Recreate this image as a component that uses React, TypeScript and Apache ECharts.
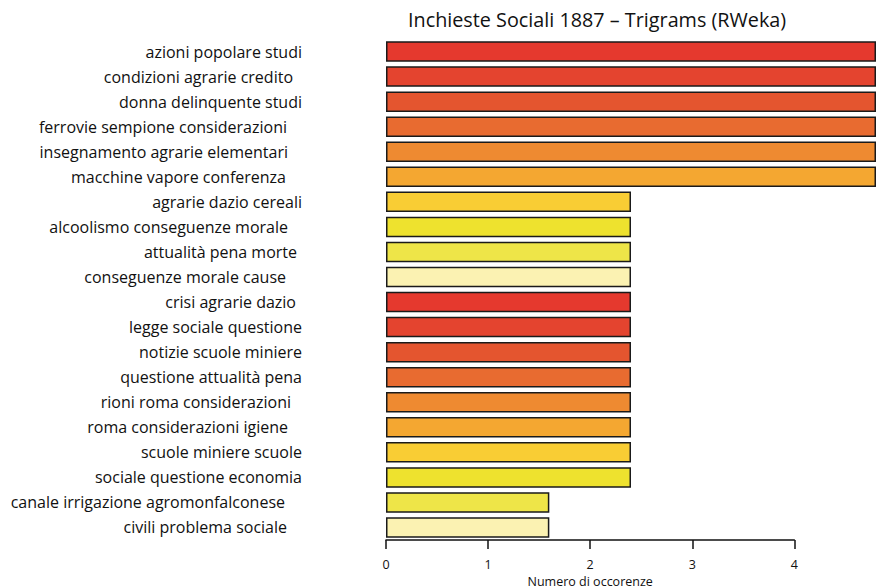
import React, { useEffect, useRef } from "react";
import * as echarts from "echarts";

const categories = [
  "azioni popolare studi",
  "condizioni agrarie credito",
  "donna delinquente studi",
  "ferrovie sempione considerazioni",
  "insegnamento agrarie elementari",
  "macchine vapore conferenza",
  "agrarie dazio cereali",
  "alcoolismo conseguenze morale",
  "attualità pena morte",
  "conseguenze morale cause",
  "crisi agrarie dazio",
  "legge sociale questione",
  "notizie scuole miniere",
  "questione attualità pena",
  "rioni roma considerazioni",
  "roma considerazioni igiene",
  "scuole miniere scuole",
  "sociale questione economia",
  "canale irrigazione agromonfalconese",
  "civili problema sociale",
];

const values = [4.8, 4.8, 4.8, 4.8, 4.8, 4.8, 2.4, 2.4, 2.4, 2.4, 2.4, 2.4, 2.4, 2.4, 2.4, 2.4, 2.4, 2.4, 1.6, 1.6];

const palette = [
  "#e5392e",
  "#e4442f",
  "#e4552f",
  "#e86b30",
  "#ee8a31",
  "#f4a731",
  "#f9cd34",
  "#eee22e",
  "#eee548",
  "#fbf2b2",
];

const xTicks = [0, 1, 2, 3, 4];

// right padding of each label (layout only)
const labelPad = [0, 9, 0, 15, 14, 16, 0, 14, 5, 16, 6, 0, 0, 0, 11, 14, 0, 0, 17, 15];

export default function App() {
  const ref = useRef<HTMLDivElement>(null);
  useEffect(() => {
    if (!ref.current) return;
    document.body.style.margin = "0";
    const chart = echarts.init(ref.current, null, { renderer: "svg" });
    const font = "'Open Sans', sans-serif";
    const rich: Record<string, any> = {};
    labelPad.forEach((p, i) => {
      rich["r" + i] = {
        fontFamily: font,
        fontSize: 16,
        color: "#111111",
        padding: [0, p, 0, 0],
      };
    });
    chart.setOption({
      animation: false,
      backgroundColor: "#ffffff",
      title: {
        text: "Inchieste Sociali 1887 – Trigrams (RWeka)",
        left: 403,
        top: 4,
        textStyle: { fontFamily: font, fontSize: 19.8, fontWeight: "normal", color: "#111111" },
      },
      grid: [
        { left: 386, top: 39, width: 490, height: 501, outerBoundsMode: "none", containLabel: false },
        { left: 386, top: 39, width: (490 * 4) / 4.8, height: 501, outerBoundsMode: "none", containLabel: false },
      ],
      xAxis: [
        {
          type: "value",
          gridIndex: 0,
          min: 0,
          max: 4.8,
          show: false,
        },
        {
          type: "value",
          gridIndex: 1,
          min: 0,
          max: 4,
          interval: 1,
          data: xTicks,
          name: "Numero di occorenze",
          nameLocation: "middle",
          nameGap: 41,
          nameMoveOverlap: false,
          nameTextStyle: { fontFamily: font, fontSize: 12.5, color: "#111111", verticalAlign: "middle" },
          axisLine: { show: true, lineStyle: { color: "#111111", width: 1.5 } },
          axisTick: { show: true, length: 9, lineStyle: { color: "#111111", width: 1.5 } },
          axisLabel: { margin: 18, fontFamily: font, fontSize: 12.5, color: "#111111" },
          splitLine: { show: false },
        },
      ],
      yAxis: [
        {
          type: "category",
          gridIndex: 0,
          inverse: true,
          data: categories,
          axisLine: { show: false },
          axisTick: { show: false },
          axisLabel: {
            margin: 84,
            formatter: (v: string) => {
              const i = categories.indexOf(v);
              return "{r" + i + "|" + v + "}";
            },
            rich,
          },
        },
        {
          type: "category",
          gridIndex: 1,
          inverse: true,
          data: categories,
          show: false,
        },
      ],
      series: [
        {
          type: "bar",
          xAxisIndex: 0,
          yAxisIndex: 0,
          barWidth: 20.5,
          data: values.map((v, i) => ({
            value: v,
            itemStyle: { color: palette[i % palette.length] },
          })),
          itemStyle: { borderColor: "#1a1a1a", borderWidth: 1.5 },
        },
      ],
    });
    return () => chart.dispose();
  }, []);
  return <div ref={ref} style={{ width: 887, height: 588 }} />;
}
